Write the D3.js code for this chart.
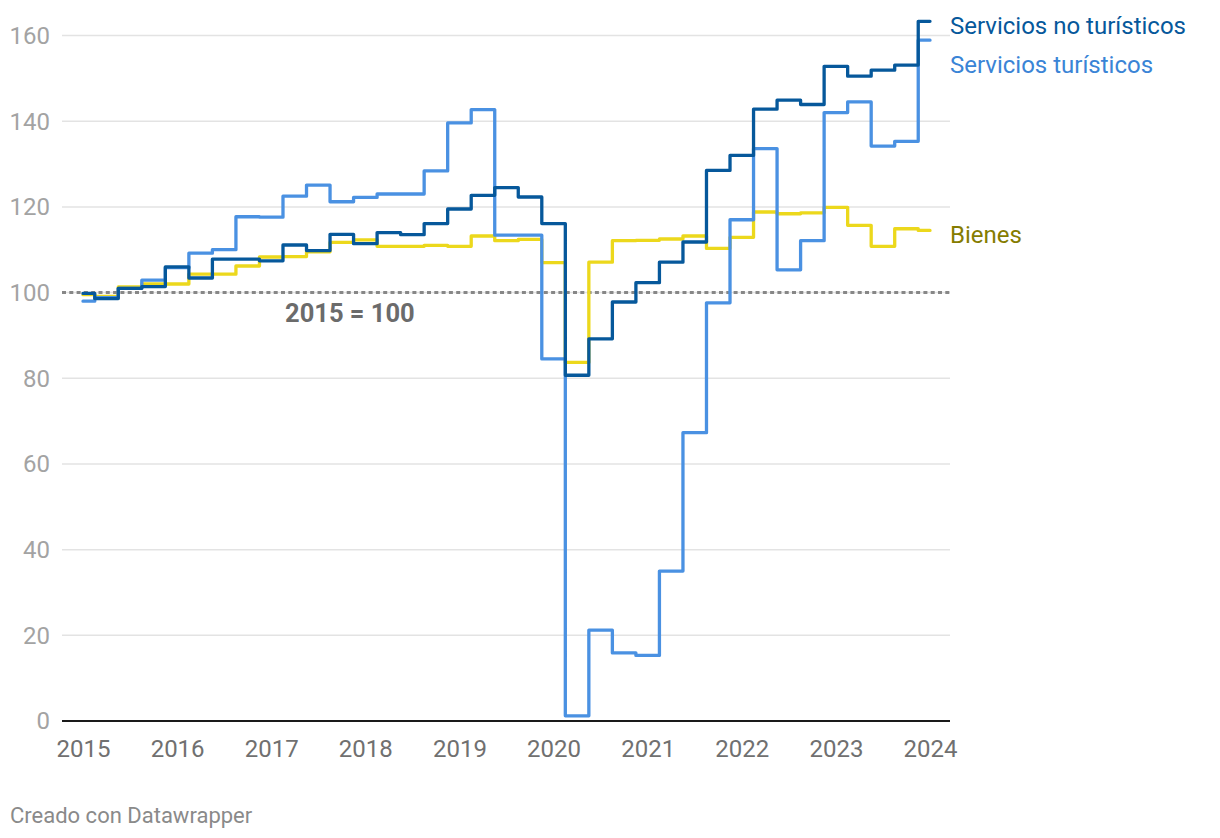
<!DOCTYPE html>
<html>
<head>
<meta charset="utf-8">
<script src="https://cdn.jsdelivr.net/npm/d3@7"></script>
<style>
  html, body { margin: 0; padding: 0; background: #fff; }
  svg { display: block; font-family: Roboto, "Noto Sans", sans-serif; }
</style>
</head>
<body>
<svg id="chart" width="1220" height="838"></svg>
<script>
// Quarterly index, 2015 = 100 (2015Q1 ... 2024Q1)
const quarters = d3.range(37).map(i => 2015 + i / 4);
const serviciosNoTuristicos = [99.8, 98.6, 101.0, 101.4, 106.0, 103.4, 107.8, 107.8, 107.4, 111.1, 109.8, 113.6, 111.4, 114.0, 113.5, 116.1, 119.5, 122.7, 124.5, 122.3, 116.1, 80.7, 89.2, 97.8, 102.3, 107.1, 111.8, 128.5, 132.0, 142.8, 144.9, 143.9, 152.8, 150.5, 151.9, 153.1, 163.3];
const serviciosTuristicos = [98.0, 98.8, 101.0, 102.9, 105.8, 109.2, 110.0, 117.7, 117.6, 122.5, 125.1, 121.2, 122.2, 123.0, 123.0, 128.4, 139.6, 142.7, 113.4, 113.4, 84.5, 1.2, 21.2, 15.9, 15.3, 35.0, 67.3, 97.6, 117.0, 133.6, 105.3, 112.1, 142.0, 144.5, 134.2, 135.3, 158.9];
const bienes = [99.5, 99.1, 101.3, 102.0, 102.0, 104.3, 104.3, 106.2, 108.3, 108.4, 109.5, 111.7, 112.3, 110.8, 110.8, 111.0, 110.8, 113.2, 112.1, 112.4, 107.0, 83.7, 107.1, 112.1, 112.2, 112.5, 113.2, 110.3, 112.9, 118.8, 118.4, 118.6, 119.9, 115.7, 110.8, 114.9, 114.5];
const seriesNames = ["Bienes", "Servicios turísticos", "Servicios no turísticos"];
const xTickLabels = [2015, 2016, 2017, 2018, 2019, 2020, 2021, 2022, 2023, 2024];
const yTickLabels = [0, 20, 40, 60, 80, 100, 120, 140, 160];
const baseValue = 100;
const baseLabel = "2015 = 100";
const credit = "Creado con Datawrapper";

const series = [
  { name: seriesNames[0], values: bienes, color: "#ecd81c", text: "#857c00" },
  { name: seriesNames[1], values: serviciosTuristicos, color: "#4a91e2", text: "#3a84d6" },
  { name: seriesNames[2], values: serviciosNoTuristicos, color: "#06589b", text: "#06589b" }
];

const svg = d3.select("#chart");
const x = d3.scaleLinear().domain([2015, 2024]).range([83, 930]);
const y = d3.scaleLinear().domain([0, 160]).range([721, 35.5]);
const plotLeft = 62, plotRight = 950;

// gridlines
svg.append("g").selectAll("line").data(yTickLabels.filter(d => d !== 0)).join("line")
  .attr("x1", plotLeft).attr("x2", plotRight)
  .attr("y1", d => y(d)).attr("y2", d => y(d))
  .attr("stroke", "#e3e3e3").attr("stroke-width", 1.5);

// y tick labels
svg.append("g").selectAll("text").data(yTickLabels).join("text")
  .attr("x", 50).attr("y", d => y(d)).attr("dy", "0.35em")
  .attr("text-anchor", "end")
  .attr("fill", "#a3a3a3").attr("font-size", 24)
  .text(d => d);

// x axis
const xAxis = d3.axisBottom(x).tickValues(xTickLabels).tickFormat(d3.format("d")).tickSize(0).tickPadding(18.5);
const gx = svg.append("g").attr("transform", `translate(0,${y(0)})`).call(xAxis);
gx.select(".domain").remove();
gx.selectAll("text").attr("font-size", 24).attr("fill", "#707070").attr("font-family", "Roboto, sans-serif");

// baseline 100 dotted
svg.append("line")
  .attr("x1", plotLeft).attr("x2", plotRight)
  .attr("y1", y(baseValue)).attr("y2", y(baseValue))
  .attr("stroke", "#878787").attr("stroke-width", 3)
  .attr("stroke-dasharray", "4,3.3");

svg.append("text")
  .attr("x", 285).attr("y", y(baseValue) + 29)
  .attr("fill", "#6b6b6b").attr("font-size", 25.5).attr("font-weight", "bold")
  .text(baseLabel);

// lines
const line = d3.line().curve(d3.curveStep).x((d, i) => x(quarters[i])).y(d => y(d));
svg.append("g").selectAll("path").data(series).join("path")
  .attr("d", d => line(d.values))
  .attr("fill", "none")
  .attr("stroke", d => d.color)
  .attr("stroke-width", 3.3)
  .attr("stroke-linejoin", "round")
  .attr("stroke-linecap", "round");

// axis baseline
svg.append("line")
  .attr("x1", plotLeft).attr("x2", plotRight)
  .attr("y1", y(0)).attr("y2", y(0))
  .attr("stroke", "#1a1a1a").attr("stroke-width", 2);

// series labels with simple collision avoidance
const labels = series.map(s => ({ ...s, ly: y(s.values[s.values.length - 1]) + 4 }))
  .sort((a, b) => a.ly - b.ly);
for (let i = 1; i < labels.length; i++) {
  labels[i].ly = Math.max(labels[i].ly, labels[i - 1].ly + 39);
}
svg.append("g").selectAll("text").data(labels).join("text")
  .attr("x", 950).attr("y", d => d.ly).attr("dy", "0.35em")
  .attr("fill", d => d.text).attr("font-size", 24)
  .text(d => d.name);

// credit
svg.append("text")
  .attr("x", 10).attr("y", 823)
  .attr("fill", "#8a8a8a").attr("font-size", 22)
  .text(credit);
</script>
</body>
</html>
